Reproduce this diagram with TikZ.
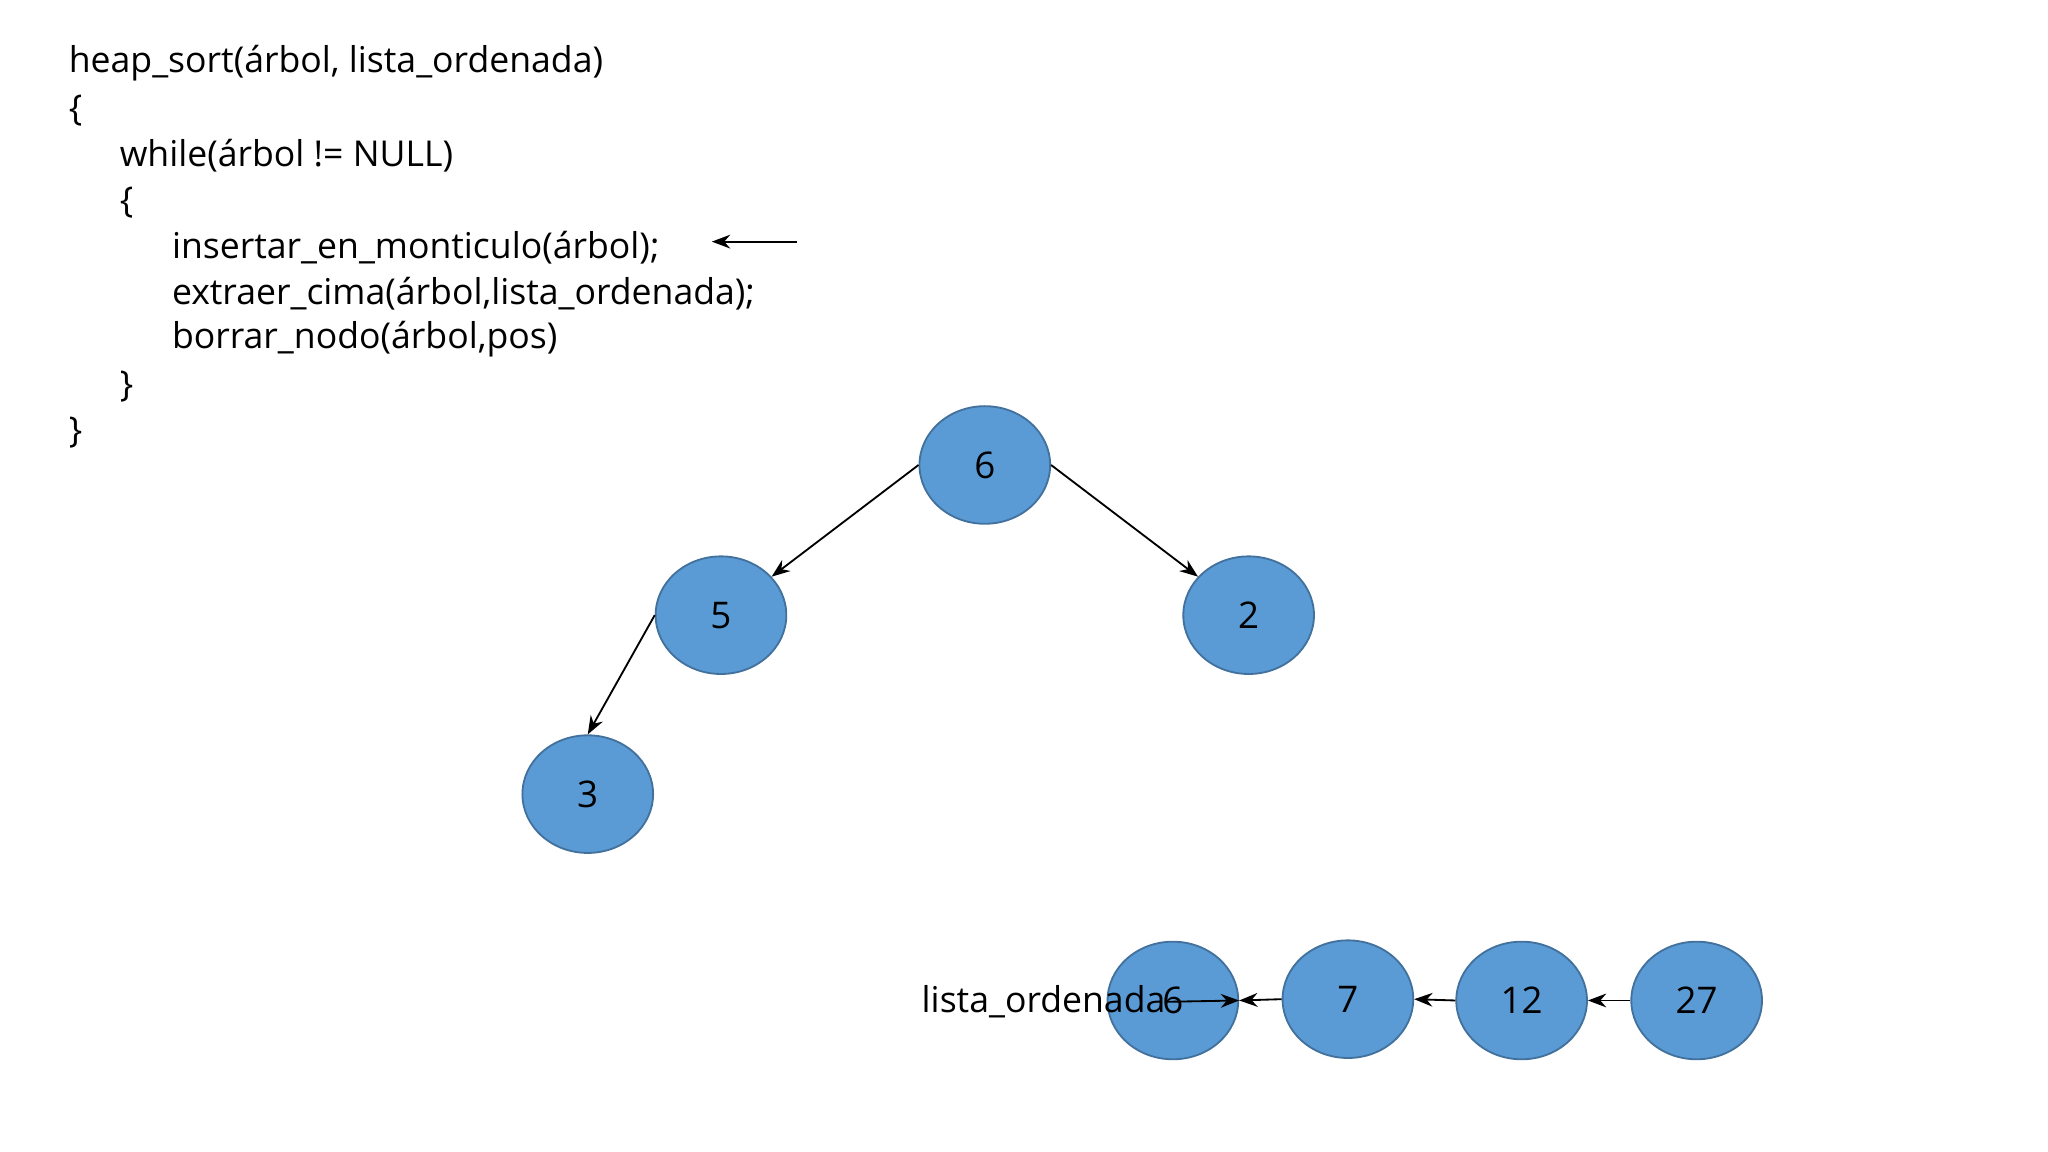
\documentclass[tikz,border=0pt]{standalone}
\usepackage{fontspec}
\setmainfont{Open Sans}
\usetikzlibrary{arrows.meta,shapes.geometric}
\begin{document}
\begin{tikzpicture}[x=0.01cm,y=-0.01cm,
  nd/.style={ellipse,draw={rgb,255:red,65;green,113;blue,156},fill={rgb,255:red,91;green,155;blue,213},minimum width=1cm,minimum height=0.9cm,inner sep=0pt,font=\fontsize{8}{10}\selectfont},
  ar/.style={-{Stealth[length=4pt,width=3pt]},line width=0.4pt},
  tx/.style={anchor=west,inner sep=0pt,font=\fontsize{7.75}{10}\selectfont}]
\useasboundingbox (0,0) rectangle (1568,882);
\node[tx] (c1) at (52,48) {heap\_sort(árbol, lista\_ordenada)};
\node[tx] (c2) at (52,85) {\{};
\node[tx] (c3) at (91,119) {while(árbol != NULL)};
\node[tx] (c4) at (91,155) {\{};
\node[tx] (c5) at (131,190) {insertar\_en\_monticulo(árbol);};
\node[tx] (c6) at (131,225) {extraer\_cima(árbol,lista\_ordenada);};
\node[tx] (c7) at (131,260) {borrar\_nodo(árbol,pos)};
\node[tx] (c8) at (91,296) {\}};
\node[tx] (c9) at (52,331) {\}};
\coordinate (p1) at (610,185);
\coordinate (p2) at (545,185);
\draw[ar] (p1) -- (p2);
\node[nd] (n6) at (754,356) {6};
\node[nd] (n5) at (552,471) {5};
\node[nd] (n2) at (956,471) {2};
\node[nd] (n3) at (450,608) {3};
\draw[ar] (n6.west) -- (n5);
\draw[ar] (n6.east) -- (n2);
\draw[ar] (n5.west) -- (n3.north);
\node[nd] (l6) at (898,766) {6};
\node[nd] (l7) at (1032,765) {7};
\node[nd] (l12) at (1165,766) {12};
\node[nd] (l27) at (1299,766) {27};
\draw[ar] (l27.west) -- (l12.east);
\draw[ar] (l12.west) -- (l7.east);
\draw[ar] (l7.west) -- (l6.east);
\node[tx] (lab) at (705,767) {lista\_ordenada};
\draw[ar] (lab.east) -- (l6.east);
\end{tikzpicture}
\end{document}
